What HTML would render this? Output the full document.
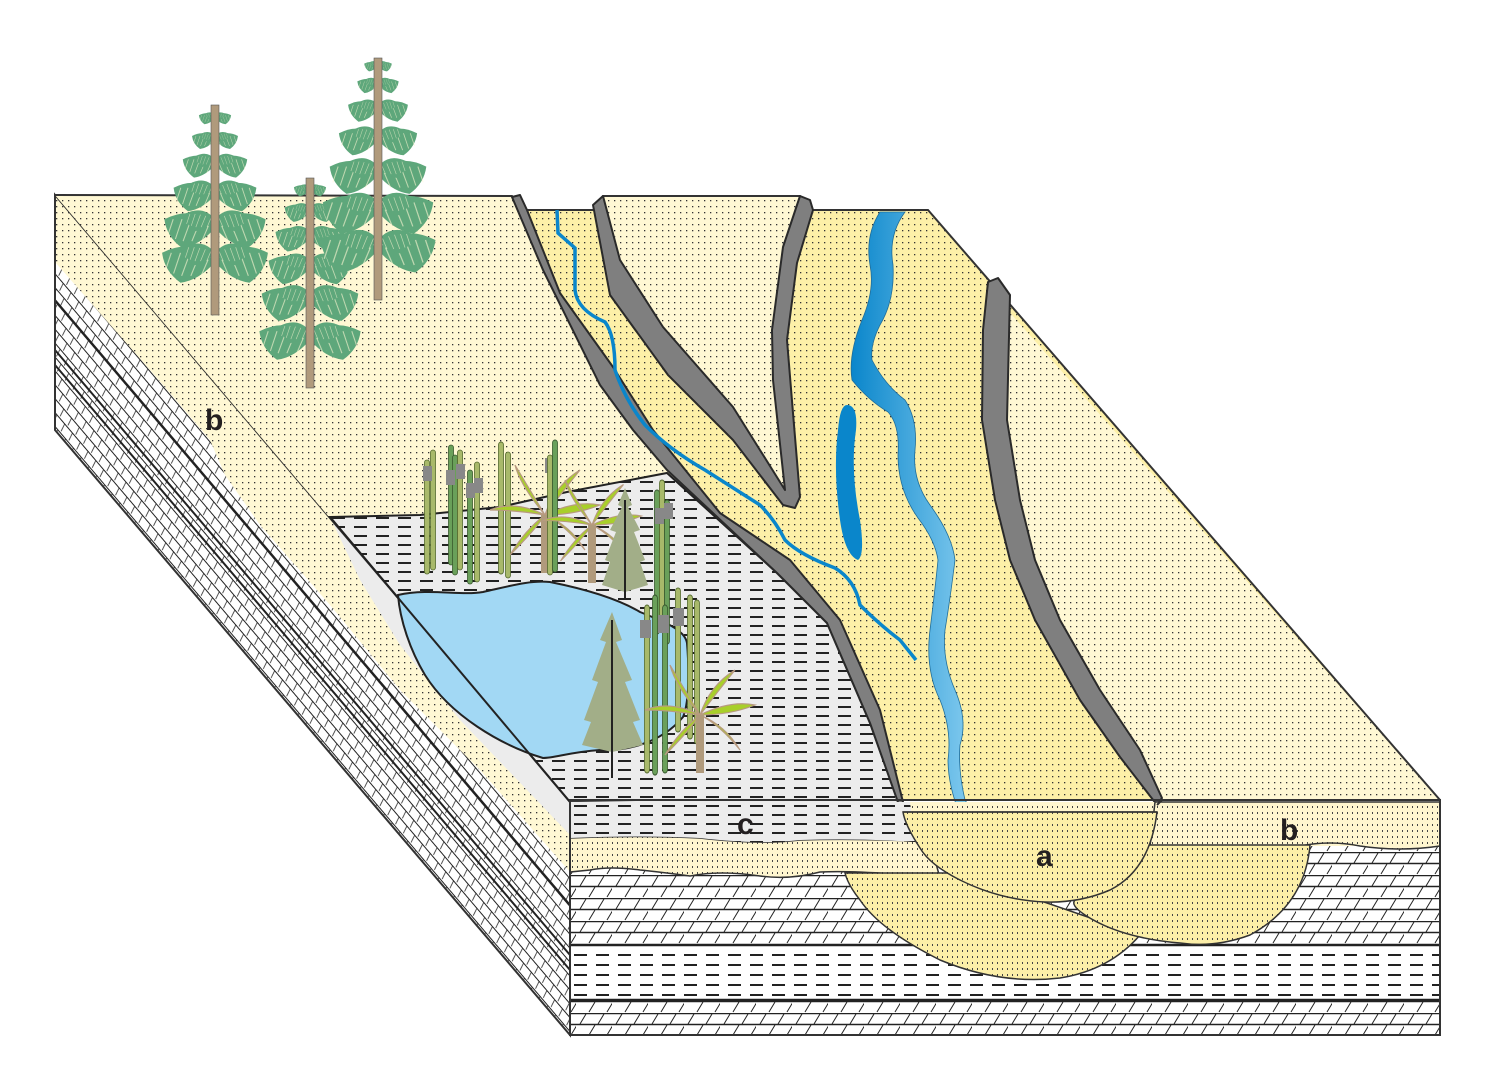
<!DOCTYPE html>
<html><head><meta charset="utf-8"><style>
html,body{margin:0;padding:0;background:#fff;}
svg{display:block;}
text{font-family:"Liberation Sans",sans-serif;font-weight:bold;fill:#231f20;}
</style></head><body>
<svg width="1500" height="1087" viewBox="0 0 1500 1087" xmlns="http://www.w3.org/2000/svg">
<defs>
<pattern id="dotsC" width="6" height="6" patternUnits="userSpaceOnUse"><rect width="6" height="6" fill="#fff8d4"/><rect x="2" y="2" width="1.3" height="1.3" fill="#333"/></pattern>
<pattern id="dotsY" width="6" height="6" patternUnits="userSpaceOnUse"><rect width="6" height="6" fill="#fdf0a8"/><rect x="2" y="2" width="1.3" height="1.3" fill="#333"/></pattern>
<pattern id="dotsF" width="5" height="6" patternUnits="userSpaceOnUse"><rect width="5" height="6" fill="#fcefa8"/><rect x="2" y="2" width="1" height="2" fill="#444"/></pattern>
<pattern id="dotsFC" width="5" height="6" patternUnits="userSpaceOnUse"><rect width="5" height="6" fill="#fff6cf"/><rect x="2" y="2" width="1" height="2" fill="#444"/></pattern>
<pattern id="mud" width="22" height="9" patternUnits="userSpaceOnUse"><rect width="22" height="9" fill="#ececec"/><rect x="2" y="4" width="13" height="2" fill="#222"/></pattern>
<pattern id="mudF" width="22" height="10" patternUnits="userSpaceOnUse"><rect width="22" height="10" fill="#fff"/><rect x="2" y="4" width="13" height="2" fill="#222"/></pattern>
<pattern id="lime" width="36" height="23" patternUnits="userSpaceOnUse" y="875"><rect width="36" height="23" fill="#fff"/>
<line x1="0" y1="0.5" x2="36" y2="0.5" stroke="#222" stroke-width="1.5"/><line x1="0" y1="11.5" x2="36" y2="11.5" stroke="#222" stroke-width="1.5"/>
<line x1="4" y1="11" x2="10" y2="1" stroke="#222" stroke-width="1"/><line x1="22" y1="11" x2="28" y2="1" stroke="#222" stroke-width="1"/>
<line x1="13" y1="22" x2="19" y2="12" stroke="#222" stroke-width="1"/><line x1="31" y1="22" x2="37" y2="12" stroke="#222" stroke-width="1"/></pattern>
<pattern id="limeL" width="24" height="9" patternUnits="userSpaceOnUse" patternTransform="rotate(49.6)"><rect width="24" height="9" fill="#fff"/>
<line x1="0" y1="0.5" x2="24" y2="0.5" stroke="#222" stroke-width="1"/><line x1="5" y1="1" x2="8" y2="8" stroke="#222" stroke-width="0.8"/><line x1="17" y1="1" x2="20" y2="8" stroke="#222" stroke-width="0.8"/></pattern>
<linearGradient id="riv" x1="0" y1="0" x2="1" y2="0"><stop offset="0" stop-color="#0a86cb"/><stop offset="1" stop-color="#86cdf0"/></linearGradient>
<clipPath id="leftface"><polygon points="55,195 570,800 570,1035 55,430"/></clipPath>
<g id="boughL"><path d="M0,0 Q-18,-22 -46,-8 Q-44,8 -30,18 Q-14,16 0,0 Z" fill="#5ea77b"/><path d="M-6,-2 l-6,14 M-14,-5 l-7,17 M-22,-7 l-7,19 M-30,-8 l-6,18 M-38,-8 l-5,15" stroke="#fff8d4" stroke-width="1" opacity="0.6"/></g>
<g id="boughR"><use href="#boughL" transform="scale(-1,1)"/></g>
<g id="tier"><use href="#boughL"/><use href="#boughR"/><use href="#boughL" transform="translate(0,-8) scale(0.6)"/><use href="#boughR" transform="translate(0,-8) scale(0.6)"/></g>
<g id="horse"><rect x="-2.5" y="0" width="5" height="120" rx="2.5" fill="#a8b96a" stroke="#556b2f" stroke-width="0.8"/></g>
<g id="horse2"><rect x="-2.5" y="0" width="5" height="120" rx="2.5" fill="#6aa05a" stroke="#3a5a2f" stroke-width="0.8"/></g>
<g id="palm"><path d="M0,0 Q-30,-15 -55,-5 Q-30,-5 0,0 Z M0,0 Q-25,-30 -30,-50 Q-15,-25 0,0 Z M0,0 Q10,-30 35,-45 Q15,-20 0,0 Z M0,0 Q30,-15 55,-10 Q30,0 0,0 Z M0,0 Q-20,15 -35,40 Q-10,15 0,0 Z M0,0 Q25,10 40,35 Q20,10 0,0 Z" fill="#a8cf2a" stroke="#b89a80" stroke-width="1.2"/></g>
</defs>

<!-- left face -->
<g clip-path="url(#leftface)">
<rect x="40" y="180" width="540" height="870" fill="url(#limeL)"/>
<path d="M55,350 L570,955 M55,365 L570,970 M55,300 L570,905" stroke="#222" stroke-width="2" fill="none"/>
<polygon points="55,195 570,800 570,872 480,770 400,690 330,605 260,525 225,475 210,440 150,370 55,262" fill="url(#dotsC)"/>
<polygon points="330,517 570,800 570,835 460,720 400,645 360,580" fill="#ececec"/>
</g>
<polygon points="55,195 570,800 570,1035 55,430" fill="none" stroke="#333" stroke-width="2"/>

<!-- top surface base (channel colour) -->
<polygon points="55,195 520,210 928,210 1440,800 570,800" fill="url(#dotsY)"/>
<path d="M55,195 L512,197 L543,270 L600,385 L633,430 L667,470 L777,573 L827,623 L870,723 L900,807 L570,800 Z" fill="url(#dotsC)"/>
<path d="M603,197 L800,197 L783,247 L772,330 L773,380 L785,490 L733,407 L663,327 L620,260 Z" fill="url(#dotsC)"/>
<path d="M990,290 L1440,800 L1160,800 L1140,750 L1100,690 L1060,620 L1035,560 L1020,500 L1007,420 L1010,295 Z" fill="url(#dotsC)"/>
<polyline points="55,195 512,196 525,210 595,210 603,196 800,196 812,210 928,210 1440,800" fill="none" stroke="#333" stroke-width="2"/>

<!-- lake mud -->
<path d="M330,517 L420,515 L500,507 L567,492 L667,473 L777,573 L827,623 L870,723 L900,807 L570,802 Z" fill="url(#mud)" stroke="#222" stroke-width="2"/>

<!-- water -->
<path d="M398,595 C430,588 460,596 483,592 C510,586 530,580 550,582 C590,590 620,600 640,612 C665,622 685,630 687,643 C690,680 688,705 683,717 C660,745 620,752 600,750 C570,752 555,758 543,758 C500,745 450,715 425,675 C410,650 400,620 398,595 Z" fill="#a2d8f4" stroke="#222" stroke-width="2"/>
<line x1="330" y1="517" x2="570" y2="802" stroke="#222" stroke-width="2"/>

<!-- walls -->
<path d="M512,197 L520,195 L527,210 L560,293 L613,367 L653,430 L720,513 L790,560 L840,620 L880,710 L905,810 L900,808 L870,723 L827,623 L777,573 L667,470 L633,430 L600,385 L543,270 Z" fill="#7f7f7f" stroke="#2a2a2a" stroke-width="2" stroke-linejoin="round"/>
<path d="M593,205 L603,196 L620,260 L663,327 L733,407 L785,490 L773,380 L772,330 L783,247 L800,196 L810,200 L813,210 L797,263 L787,340 L793,413 L800,497 L795,508 L783,505 L733,440 L668,375 L610,295 Z" fill="#7f7f7f" stroke="#2a2a2a" stroke-width="2" stroke-linejoin="round"/>
<path d="M988,282 L998,278 L1010,295 L1007,420 L1020,500 L1035,560 L1060,620 L1100,690 L1140,750 L1162,798 L1157,805 L1120,757 L1080,700 L1035,620 L1010,560 L995,500 L982,420 L983,330 Z" fill="#7f7f7f" stroke="#2a2a2a" stroke-width="2" stroke-linejoin="round"/>

<!-- rivers -->
<path d="M557,210 L558,233 L575,248 L575,290 Q577,310 605,322 Q615,335 615,370 Q625,400 645,425 Q670,450 705,470 L760,505 Q775,520 785,540 Q800,555 835,568 Q855,580 860,605 Q880,625 900,640 L916,660" fill="none" stroke="#0a86cb" stroke-width="3.5"/>
<path d="M880,212 L905,212 Q888,235 893,265 Q895,300 880,325 Q870,345 872,360 Q885,385 905,400 Q918,420 915,450 Q912,480 930,505 Q952,535 955,560 Q950,600 945,630 Q942,660 955,690 Q968,720 960,745 Q958,770 965,800 L975,815 L960,815 Q948,785 948,760 Q952,730 940,700 Q925,670 930,630 Q935,590 938,560 Q935,540 918,518 Q898,490 898,455 Q900,425 888,412 Q868,400 852,380 Q848,355 862,320 Q875,290 870,265 Q865,235 880,212 Z" fill="url(#riv)" stroke="#1f6d9a" stroke-width="0.8"/>
<path d="M847,405 Q858,405 856,430 Q850,470 860,520 Q865,555 858,560 Q845,555 840,520 Q833,470 838,430 Q840,405 847,405 Z" fill="#0a86cb"/>

<!-- front face -->
<rect x="570" y="802" width="870" height="74" fill="url(#dotsFC)"/>
<rect x="570" y="846" width="870" height="189" fill="url(#lime)"/>
<rect x="570" y="945" width="870" height="55" fill="url(#mudF)"/>
<line x1="570" y1="945" x2="1440" y2="945" stroke="#222" stroke-width="2.5"/>
<line x1="570" y1="1000" x2="1440" y2="1000" stroke="#222" stroke-width="2.5"/>
<path d="M570,838 Q640,835 700,838 Q760,845 800,840 Q860,838 930,842 L940,878 Q860,870 820,872 Q790,880 760,876 Q720,870 690,876 Q660,872 640,870 Q610,866 590,870 L570,872 Z" fill="url(#dotsFC)" stroke="#333" stroke-width="1.5"/>
<path d="M570,802 L910,802 L915,842 Q860,838 800,840 Q760,845 700,838 Q640,835 570,838 Z" fill="url(#mud)"/>
<path d="M1155,802 L1440,802 L1440,846 Q1400,852 1360,846 Q1330,840 1300,846 L1150,846 Z" fill="url(#dotsFC)" stroke="#333" stroke-width="1.5"/>
<path d="M845,873 L960,873 L1140,935 Q1110,970 1060,978 Q1000,985 940,960 Q880,930 860,900 Q848,885 845,873 Z" fill="url(#dotsF)" stroke="#333" stroke-width="1.5"/>
<path d="M1140,845 L1310,845 Q1305,905 1250,935 Q1215,948 1180,943 Q1120,938 1085,915 Q1070,905 1075,900 Z" fill="url(#dotsF)" stroke="#333" stroke-width="1.5"/>
<path d="M903,812 L1157,812 Q1150,870 1110,890 Q1080,903 1045,902 Q1000,900 960,880 Q930,865 920,848 Q905,825 903,812 Z" fill="url(#dotsF)" stroke="#333" stroke-width="1.5"/>
<line x1="903" y1="812" x2="1157" y2="812" stroke="#333" stroke-width="1.5"/>
<path d="M1157,805 L1162,800 L1440,800" fill="none" stroke="#333" stroke-width="2"/>
<rect x="570" y="800" width="870" height="235" fill="none" stroke="#333" stroke-width="2"/>

<!-- conifers on plateau -->
<g>
<use href="#tier" transform="translate(215,262) scale(1.15)"/>
<use href="#tier" transform="translate(215,228) scale(1.1)"/>
<use href="#tier" transform="translate(215,195) scale(0.9)"/>
<use href="#tier" transform="translate(215,165) scale(0.7)"/>
<use href="#tier" transform="translate(215,140) scale(0.5)"/>
<use href="#tier" transform="translate(215,118) scale(0.35)"/>
<rect x="211" y="105" width="8" height="210" fill="#b09a7c" stroke="#555" stroke-width="0.6"/>
<use href="#tier" transform="translate(310,340) scale(1.1)"/>
<use href="#tier" transform="translate(310,302) scale(1.05)"/>
<use href="#tier" transform="translate(310,268) scale(0.9)"/>
<use href="#tier" transform="translate(310,238) scale(0.75)"/>
<use href="#tier" transform="translate(310,212) scale(0.55)"/>
<use href="#tier" transform="translate(310,190) scale(0.35)"/>
<rect x="306" y="178" width="8" height="210" fill="#b09a7c" stroke="#555" stroke-width="0.6"/>
<use href="#tier" transform="translate(378,250) scale(1.25)"/>
<use href="#tier" transform="translate(378,212) scale(1.2)"/>
<use href="#tier" transform="translate(378,175) scale(1.05)"/>
<use href="#tier" transform="translate(378,140) scale(0.85)"/>
<use href="#tier" transform="translate(378,110) scale(0.65)"/>
<use href="#tier" transform="translate(378,85) scale(0.45)"/>
<use href="#tier" transform="translate(378,66) scale(0.3)"/>
<rect x="374" y="58" width="8" height="242" fill="#b09a7c" stroke="#555" stroke-width="0.6"/>
</g>

<!-- lake vegetation -->
<g>
<use href="#horse" transform="translate(427,460) scale(1,0.95)"/>
<use href="#horse" transform="translate(433,450)"/>
<use href="#horse2" transform="translate(451,445)"/>
<use href="#horse2" transform="translate(455,455)"/>
<use href="#horse" transform="translate(460,450)"/>
<use href="#horse2" transform="translate(470,470) scale(1,0.95)"/>
<use href="#horse" transform="translate(477,462)"/>
<use href="#horse" transform="translate(501,442) scale(1,1.1)"/>
<use href="#horse" transform="translate(508,452) scale(1,1.05)"/>
<rect x="423" y="466" width="9" height="15" fill="#888"/><rect x="446" y="470" width="9" height="15" fill="#888"/><rect x="456" y="464" width="9" height="15" fill="#888"/><rect x="466" y="483" width="9" height="15" fill="#888"/><rect x="474" y="478" width="9" height="15" fill="#888"/><rect x="545" y="458" width="9" height="15" fill="#888"/>
<use href="#palm" transform="translate(545,515)"/>
<rect x="541" y="515" width="8" height="58" fill="#b09a7c"/>
<use href="#horse" transform="translate(550,455) scale(1,1)"/>
<use href="#horse2" transform="translate(555,440) scale(1,1.1)"/>
<use href="#palm" transform="translate(592,525) scale(0.9)"/>
<rect x="588" y="525" width="8" height="58" fill="#b09a7c"/>
<path d="M625,488 L632,505 L628,507 L640,530 L634,532 L645,560 L640,562 L648,585 L625,592 L602,585 L610,562 L605,560 L616,532 L610,530 L622,507 L618,505 Z" fill="#a2ae88"/>
<line x1="625" y1="500" x2="625" y2="600" stroke="#222" stroke-width="2"/>
<path d="M612,612 L622,640 L616,642 L632,680 L625,682 L640,720 L633,722 L643,745 L612,752 L582,745 L591,722 L584,720 L598,682 L592,680 L606,642 L600,640 Z" fill="#a2ae88"/>
<line x1="612" y1="620" x2="612" y2="778" stroke="#222" stroke-width="2"/>
<use href="#horse2" transform="translate(657,490) scale(1,1.2)"/>
<use href="#horse" transform="translate(662,480) scale(1,1.25)"/>
<use href="#horse2" transform="translate(667,500) scale(1,1.2)"/>
<use href="#horse" transform="translate(647,605) scale(1,1.4)"/>
<use href="#horse2" transform="translate(655,595) scale(1,1.5)"/>
<use href="#horse2" transform="translate(665,605) scale(1,1.4)"/>
<use href="#horse" transform="translate(678,588) scale(1,1.2)"/>
<use href="#horse" transform="translate(690,595) scale(1,1.2)"/>
<use href="#horse" transform="translate(697,600) scale(1,1.2)"/>
<rect x="640" y="620" width="11" height="18" fill="#888"/><rect x="658" y="615" width="11" height="18" fill="#888"/><rect x="673" y="608" width="11" height="18" fill="#888"/><rect x="655" y="508" width="9" height="16" fill="#888"/><rect x="664" y="503" width="9" height="16" fill="#888"/>
<use href="#palm" transform="translate(700,715)"/>
<rect x="696" y="715" width="8" height="58" fill="#b09a7c"/>
</g>

<text x="205" y="430" font-size="30">b</text>
<text x="737" y="834" font-size="30">c</text>
<text x="1036" y="866" font-size="30">a</text>
<text x="1280" y="840" font-size="30">b</text>
</svg>
</body></html>
